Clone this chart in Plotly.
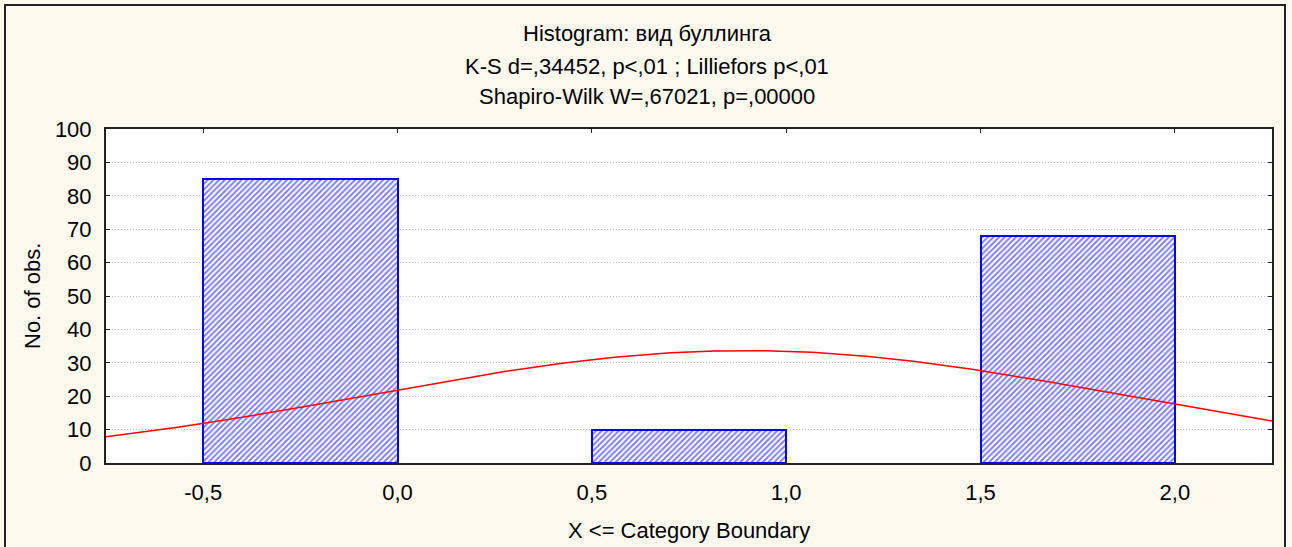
import numpy as np
import plotly.graph_objects as go

# histogram bins (X <= category boundary)
bin_lo = [-0.5, 0.5, 1.5]
bin_hi = [0.0, 1.0, 2.0]
counts = [85, 10, 68]
# category value represented by each bin (upper boundary)
values = [0, 1, 2]

y_ticks = [0, 10, 20, 30, 40, 50, 60, 70, 80, 90, 100]
x_ticks = [-0.5, 0.0, 0.5, 1.0, 1.5, 2.0]
x_tick_labels = ["-0,5", "0,0", "0,5", "1,0", "1,5", "2,0"]

title_lines = [
    "Histogram: вид буллинга",
    "K-S d=,34452, p<,01 ; Lilliefors p<,01",
    "Shapiro-Wilk W=,67021, p=,00000",
]

FONT = "Liberation Sans, Arial, sans-serif"
BG = "#fdf9ef"

# fitted normal curve (expected counts for bin width)
vals = np.array(values, dtype=float)
cnt = np.array(counts, dtype=float)
n = cnt.sum()
mean = (vals * cnt).sum() / n
sd = np.sqrt(((vals - mean) ** 2 * cnt).sum() / (n - 1))
width = bin_hi[0] - bin_lo[0]
xs = np.linspace(-0.75, 2.25, 300)
ys = n * width * np.exp(-0.5 * ((xs - mean) / sd) ** 2) / (sd * np.sqrt(2 * np.pi))

centers = [(a + b) / 2 for a, b in zip(bin_lo, bin_hi)]
widths = [b - a for a, b in zip(bin_lo, bin_hi)]

bars = go.Bar(x=centers, y=counts, width=widths,
              marker=dict(color="white",
                          line=dict(color="#0000ff", width=2),
                          pattern=dict(shape="/", fgcolor="#0000ff", bgcolor="white",
                                       size=4, solidity=0.5)),
              showlegend=False, hoverinfo="x+y")

curve = go.Scatter(x=xs, y=ys, mode="lines",
                   line=dict(color="#ff0000", width=1.5),
                   showlegend=False, hoverinfo="skip")

fig = go.Figure(data=[bars, curve])

# pixel helpers for annotation placement (plot area 106..1272 x 129..463)
L, R, T, B = 106, 1272, 129, 463
def px(x):
    return (x - L) / (R - L)
def py(y):
    return (B - y) / (B - T)

annotations = []
for txt, yy in zip(title_lines, [34, 66, 97]):
    annotations.append(dict(text=txt, x=px(647), y=py(yy), xref="paper", yref="paper",
                            xanchor="center", yanchor="middle", showarrow=False,
                            font=dict(family=FONT, size=22, color="black")))
annotations.append(dict(text="X <= Category Boundary", x=px(689), y=py(530),
                        xref="paper", yref="paper", xanchor="center", yanchor="middle",
                        showarrow=False, font=dict(family=FONT, size=22, color="black")))
annotations.append(dict(text="No. of obs.", x=px(32), y=py(296), textangle=-90,
                        xref="paper", yref="paper", xanchor="center", yanchor="middle",
                        showarrow=False, font=dict(family=FONT, size=22, color="black")))

fig.update_layout(
    width=1292, height=547,
    margin=dict(l=L, r=1292 - R, t=T, b=547 - B),
    paper_bgcolor=BG, plot_bgcolor="white",
    separators=", ",
    bargap=0,
    font=dict(family=FONT, size=22, color="black"),
    annotations=annotations,
    shapes=[dict(type="rect", xref="paper", yref="paper",
                 x0=px(5), x1=px(1285), y0=py(560), y1=py(5),
                 line=dict(color="#222222", width=2), fillcolor="rgba(0,0,0,0)",
                 layer="below")],
    xaxis=dict(range=[-0.75, 2.25], tickvals=x_ticks, ticktext=x_tick_labels,
               showgrid=False, zeroline=False,
               showline=True, linecolor="#222222", linewidth=2, mirror="ticks",
               ticks="inside", ticklen=4, tickcolor="#222222",
               tickfont=dict(family=FONT, size=22), ticklabelstandoff=9),
    yaxis=dict(range=[0, 100], tickvals=y_ticks,
               showgrid=True, gridcolor="#bdbdbd", griddash="1px,2px", gridwidth=1,
               zeroline=False,
               showline=True, linecolor="#222222", linewidth=2, mirror="ticks",
               ticks="inside", ticklen=4, tickcolor="#222222",
               tickfont=dict(family=FONT, size=22), ticklabelstandoff=8),
)

fig.write_html("out.html", config={"displayModeBar": False},
               post_script="document.body.style.margin='0';document.body.style.padding='0';")
